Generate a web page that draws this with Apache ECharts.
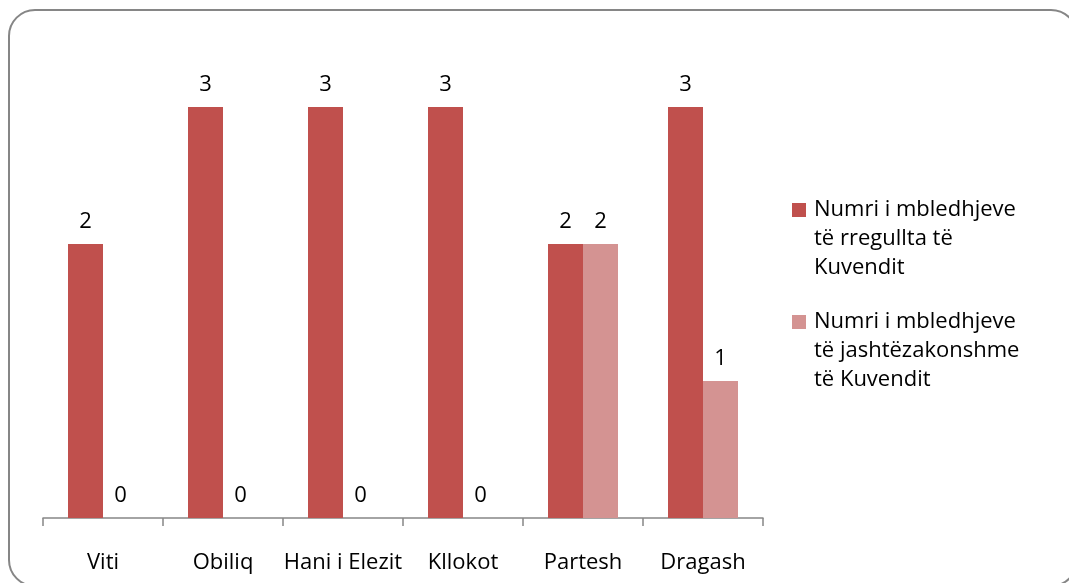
<!DOCTYPE html>
<html>
<head>
<meta charset="utf-8">
<script src="https://cdn.jsdelivr.net/npm/echarts@6/dist/echarts.min.js"></script>
<style>
  html, body { margin: 0; padding: 0; background: #fff; }
  #chart { width: 1069px; height: 583px; }
</style>
</head>
<body>
<div id="chart"></div>
<script>
// data
const categories = ["Viti", "Obiliq", "Hani i Elezit", "Kllokot", "Partesh", "Dragash"];
const seriesNames = [
  "Numri i mbledhjeve\ntë rregullta të\nKuvendit",
  "Numri i mbledhjeve\ntë jashtëzakonshme\ntë Kuvendit",
];
const regular = [2, 3, 3, 3, 2, 3];
const extraordinary = [0, 0, 0, 0, 2, 1];

const colors = ["#C0504D", "#D49392"];
const fontFamily = "'Open Sans', 'DejaVu Sans', sans-serif";
const fontSize = 22;

const chart = echarts.init(document.getElementById("chart"));

const barLabel = {
  show: true,
  position: "top",
  distance: 11,
  color: "#000",
  fontSize: fontSize,
  fontFamily: fontFamily,
};

// legend drawn by hand so the marker sits on the first text line
const legendTops = [203, 315];
const legendGraphics = [];
seriesNames.forEach((name, i) => {
  legendGraphics.push({
    type: "rect",
    shape: { x: 792, y: legendTops[i], width: 14, height: 14 },
    style: { fill: colors[i] },
    silent: true,
  });
  legendGraphics.push({
    type: "text",
    x: 814,
    y: legendTops[i] + 7 - 14.5,
    style: {
      text: name,
      fill: "#000",
      font: fontSize + "px " + fontFamily,
      lineHeight: 29,
      verticalAlign: "top",
    },
    silent: true,
  });
});

chart.setOption({
  color: colors,
  backgroundColor: "#fff",
  animation: false,
  graphic: [
    // rounded frame, partly cut off at right and bottom
    {
      type: "rect",
      shape: { x: 9, y: 10, width: 1068, height: 576, r: 26 },
      style: { fill: "none", stroke: "#868686", lineWidth: 2 },
      silent: true,
    },
  ].concat(legendGraphics),
  grid: {
    left: 43,
    right: 306,
    top: 38.5,
    bottom: 65,
  },
  legend: { show: false },
  xAxis: {
    type: "category",
    data: categories,
    axisLine: { show: true, lineStyle: { color: "#868686", width: 1.5 } },
    axisTick: {
      show: true,
      interval: 0,
      length: 8,
      lineStyle: { color: "#868686", width: 1.5 },
    },
    axisLabel: {
      interval: 0,
      color: "#000",
      fontSize: fontSize,
      fontFamily: fontFamily,
      margin: 34,
    },
  },
  yAxis: {
    type: "value",
    min: 0,
    max: 3.5,
    show: false,
    splitLine: { show: false },
  },
  series: [
    {
      type: "bar",
      name: seriesNames[0],
      data: regular,
      barWidth: 35,
      barGap: "0%",
      label: barLabel,
    },
    {
      type: "bar",
      name: seriesNames[1],
      data: extraordinary,
      barWidth: 35,
      barGap: "0%",
      label: barLabel,
    },
  ],
});
</script>
</body>
</html>
